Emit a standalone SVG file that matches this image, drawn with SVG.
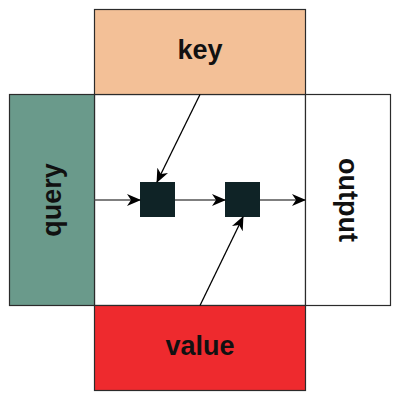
<svg xmlns="http://www.w3.org/2000/svg" width="400" height="400" viewBox="0 0 400 400">
<defs>
<style>
.box{stroke:#2b2b2b;stroke-width:1.2}
.lbl{font-family:"Liberation Sans",Arial,sans-serif;font-weight:bold;font-size:27px;fill:#111;text-anchor:middle}
.op{fill:#0f2326}
.c{fill:none;stroke-width:1.3}
</style>
<marker id="ah" viewBox="0 0 14 12" refX="13" refY="6" markerWidth="14" markerHeight="12" markerUnits="userSpaceOnUse" orient="auto">
<path d="M0,0 L14,6 L0,12 L4,6 z" fill="#000"/>
</marker>
</defs>
<rect x="0" y="0" width="400" height="400" fill="#fff"/>
<g id="center"><rect class="box" x="94.5" y="94.5" width="211" height="211" fill="#fff"/></g>
<g id="key"><rect class="box" x="94.5" y="9.5" width="211" height="85" fill="#f3c097"/><text class="lbl" x="200" y="59">key</text></g>
<g id="query"><rect class="box" x="9.5" y="94.5" width="85" height="211" fill="#6a9a8b"/><text class="lbl" transform="translate(61,200) rotate(-90)">query</text></g>
<g id="output"><rect class="box" x="305.5" y="94.5" width="85" height="211" fill="#fff"/><text class="lbl" transform="translate(339,200) rotate(90)">output</text></g>
<g id="value"><rect class="box" x="94.5" y="305.5" width="211" height="85" fill="#ee2a2e"/><text class="lbl" x="200" y="355">value</text></g>
<g id="op1"><rect class="op" x="140" y="182" width="35" height="35"/></g>
<g id="op2"><rect class="op" x="225" y="182" width="35" height="35"/></g>
<g id="connectors">
<line class="c" stroke="#555" x1="94.5" y1="200" x2="140" y2="200" marker-end="url(#ah)"/>
<line class="c" stroke="#555" x1="175" y1="200" x2="225" y2="200" marker-end="url(#ah)"/>
<line class="c" stroke="#555" x1="260" y1="200" x2="305" y2="200" marker-end="url(#ah)"/>
<line class="c" stroke="#000" x1="200" y1="94.5" x2="157" y2="182" marker-end="url(#ah)"/>
<line class="c" stroke="#000" x1="200" y1="305.5" x2="243" y2="217" marker-end="url(#ah)"/>
</g>
</svg>
